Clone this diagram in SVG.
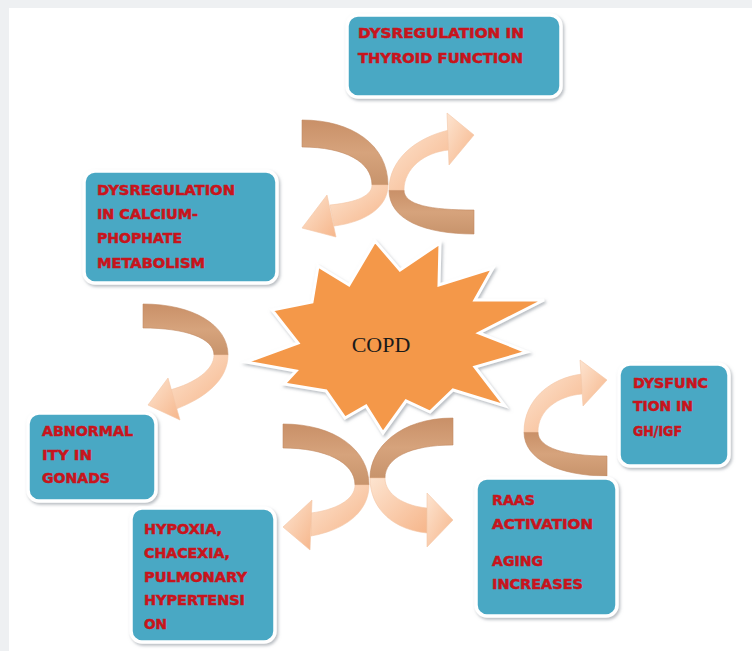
<svg xmlns="http://www.w3.org/2000/svg" width="752" height="651" viewBox="0 0 752 651">
  <defs>
    <filter id="shadow" x="-10%" y="-10%" width="125%" height="125%">
      <feDropShadow dx="1.5" dy="2" stdDeviation="1.5" flood-color="#8a939b" flood-opacity="0.6"/>
    </filter>
    <linearGradient id="dark" x1="0" y1="0" x2="0" y2="1">
      <stop offset="0" stop-color="#c99068"/>
      <stop offset="0.5" stop-color="#d6a37c"/>
      <stop offset="1" stop-color="#c8946c"/>
    </linearGradient>
    <linearGradient id="light" x1="0" y1="0" x2="1" y2="1">
      <stop offset="0" stop-color="#fde4d0"/>
      <stop offset="1" stop-color="#f6b68b"/>
    </linearGradient>
    <style>
      .box { fill: #4aa8c4; stroke: #ffffff; stroke-width: 3.5; filter: url(#shadow); }
      .lbl { font-family: "DejaVu Sans", "Liberation Sans", sans-serif; font-weight: bold; font-size: 13.5px; fill: #c8141c; stroke: #c8141c; stroke-width: 0.5; }
      .dk { fill: url(#dark); stroke: #c38a62; stroke-width: 0.6; }
      .lt { fill: url(#light); stroke: #f3c6a6; stroke-width: 0.6; }
    </style>
  </defs>

  <!-- page background -->
  <rect x="0" y="0" width="752" height="651" fill="#eef0f2"/>
  <rect x="9" y="8" width="743" height="643" fill="#ffffff"/>

  <!-- curved ribbon connectors: dark back face, light front face, arrowhead -->
  <g id="connectors">
    <!-- top pair -->
    <path class="dk" d="M302,120 C352,120 388,145 388,185 L372,185 C372,162 345,147 302,147 Z"/>
    <path class="lt" d="M388,185 C388,207 366,222 334,226 L330,205 C350,203 372,198 372,185 Z"/>
    <polygon class="lt" points="302,228 327,195 336,237"/>

    <path class="dk" d="M474,234 C425,234 389,220 389,190 L404,190 C404,205 430,210 474,210 Z"/>
    <path class="lt" d="M389,190 C389,160 415,138 449,130 L449,150 C425,152 404,168 404,190 Z"/>
    <polygon class="lt" points="474,135 447,113 449,165"/>

    <!-- left -->
    <path class="dk" d="M143,304 C193,304 228,325 228,355 L214,355 C214,338 185,328 143,328 Z"/>
    <path class="lt" d="M228,355 C228,380 205,398 176,409 L170,390 C195,383 214,370 214,355 Z"/>
    <polygon class="lt" points="148,405 168,378 180,420"/>

    <!-- bottom pair -->
    <path class="dk" d="M283,424 C335,424 369,450 369,485 L355,485 C355,462 325,448 283,448 Z"/>
    <path class="lt" d="M369,485 C369,512 345,530 311,536 L311,513 C335,510 355,500 355,485 Z"/>
    <polygon class="lt" points="283,527 312,500 310,550"/>

    <path class="dk" d="M453,418 C400,418 370,448 370,478 L385,478 C385,458 410,445 453,445 Z"/>
    <path class="lt" d="M370,478 C370,510 395,530 427,533 L427,508 C405,506 385,495 385,478 Z"/>
    <polygon class="lt" points="453,520 427,493 427,547"/>

    <!-- right -->
    <path class="dk" d="M607,476 C560,476 524,460 524,432 L538,432 C538,448 565,456 607,456 Z"/>
    <path class="lt" d="M524,432 C524,400 550,378 582,374 L582,394 C558,396 538,410 538,432 Z"/>
    <polygon class="lt" points="607,380 580,360 583,406"/>
  </g>

  <!-- central burst -->
  <g id="copd">
    <polygon points="318,266 349,285 375,241 400,270 440,243 439,285 493,268 475,300 544,300 479,333 527,352 475,367 505,406 453,390 430,412 406,401 383,433 366,406 345,418 326,391 284,384 296,371 246,362 298,343 272,310 312,302"
             fill="#f4984a" stroke="#ffffff" stroke-width="3" stroke-linejoin="miter" filter="url(#shadow)"/>
    <text x="381" y="352" font-family="'Liberation Serif', 'Times New Roman', serif" font-size="22" text-anchor="middle" fill="#1a1a1a">COPD</text>
  </g>

  <g id="thyroid">
    <rect class="box" x="347" y="15" width="214" height="82" rx="11"/>
    <text class="lbl" x="358" y="38" textLength="166" lengthAdjust="spacingAndGlyphs">DYSREGULATION IN</text>
    <text class="lbl" x="358" y="63" textLength="165" lengthAdjust="spacingAndGlyphs">THYROID FUNCTION</text>
  </g>

  <g id="calcium">
    <rect class="box" x="84" y="171" width="193" height="112" rx="11"/>
    <text class="lbl" x="97" y="195" textLength="138" lengthAdjust="spacingAndGlyphs">DYSREGULATION</text>
    <text class="lbl" x="97" y="219" textLength="101" lengthAdjust="spacingAndGlyphs">IN CALCIUM-</text>
    <text class="lbl" x="97" y="243" textLength="85" lengthAdjust="spacingAndGlyphs">PHOPHATE</text>
    <text class="lbl" x="97" y="268" textLength="108" lengthAdjust="spacingAndGlyphs">METABOLISM</text>
  </g>

  <g id="gonads">
    <rect class="box" x="28" y="413" width="128" height="88" rx="11"/>
    <text class="lbl" x="42" y="436" textLength="91" lengthAdjust="spacingAndGlyphs">ABNORMAL</text>
    <text class="lbl" x="42" y="460" textLength="50" lengthAdjust="spacingAndGlyphs">ITY IN</text>
    <text class="lbl" x="42" y="483" textLength="68" lengthAdjust="spacingAndGlyphs">GONADS</text>
  </g>

  <g id="hypoxia">
    <rect class="box" x="131" y="508" width="144" height="134" rx="11"/>
    <text class="lbl" x="144" y="534" textLength="78" lengthAdjust="spacingAndGlyphs">HYPOXIA,</text>
    <text class="lbl" x="144" y="558" textLength="86" lengthAdjust="spacingAndGlyphs">CHACEXIA,</text>
    <text class="lbl" x="144" y="582" textLength="103" lengthAdjust="spacingAndGlyphs">PULMONARY</text>
    <text class="lbl" x="144" y="605" textLength="101" lengthAdjust="spacingAndGlyphs">HYPERTENSI</text>
    <text class="lbl" x="144" y="629" textLength="23" lengthAdjust="spacingAndGlyphs">ON</text>
  </g>

  <g id="raas">
    <rect class="box" x="476" y="478" width="141" height="138" rx="11"/>
    <text class="lbl" x="492" y="505" textLength="43" lengthAdjust="spacingAndGlyphs">RAAS</text>
    <text class="lbl" x="492" y="529" textLength="101" lengthAdjust="spacingAndGlyphs">ACTIVATION</text>
    <text class="lbl" x="492" y="566" textLength="51" lengthAdjust="spacingAndGlyphs">AGING</text>
    <text class="lbl" x="492" y="589" textLength="91" lengthAdjust="spacingAndGlyphs">INCREASES</text>
  </g>

  <g id="ghigf">
    <rect class="box" x="619" y="364" width="110" height="102" rx="11"/>
    <text class="lbl" x="633" y="388" textLength="75" lengthAdjust="spacingAndGlyphs">DYSFUNC</text>
    <text class="lbl" x="633" y="411" textLength="60" lengthAdjust="spacingAndGlyphs">TION IN</text>
    <text class="lbl" x="633" y="436" textLength="49" lengthAdjust="spacingAndGlyphs">GH/IGF</text>
  </g>
</svg>
